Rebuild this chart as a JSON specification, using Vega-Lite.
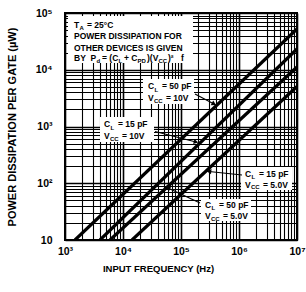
{
  "$schema": "https://vega.github.io/schema/vega-lite/v6.json",
  "width": 232,
  "height": 227,
  "autosize": {"type": "none"},
  "padding": {"left": 65, "top": 13, "right": 9, "bottom": 52},
  "background": "white",
  "config": {
    "font": "Liberation Sans",
    "view": {"stroke": "black", "strokeWidth": 2},
    "axis": {"labelColor": "black", "titleColor": "black", "labelFontWeight": "bold", "titleFontWeight": "bold", "labelFont": "Liberation Sans", "titleFont": "Liberation Sans"}
  },
  "datasets": {
    "curves": [
      {"s": "50pF 10V", "f": 1486, "p": 10}, {"s": "50pF 10V", "f": 10000000, "p": 52240},
      {"s": "15pF 10V", "f": 4009, "p": 10}, {"s": "15pF 10V", "f": 10000000, "p": 23230},
      {"s": "50pF 5V", "f": 5970, "p": 10}, {"s": "50pF 5V", "f": 10000000, "p": 11170},
      {"s": "15pF 5V", "f": 14290, "p": 10}, {"s": "15pF 5V", "f": 10000000, "p": 5070}
    ],
    "boxes": [
      {"f": 1127, "f2": 161000, "p": 88540, "p2": 13150},
      {"f": 22120, "f2": 167600, "p": 6871, "p2": 2492},
      {"f": 4013, "f2": 34240, "p": 1470, "p2": 533.2},
      {"f": 1083000, "f2": 8200000, "p": 193.4, "p2": 76.05},
      {"f": 221200, "f2": 1610000, "p": 52.78, "p2": 21.62}
    ],
    "arrows": [
      {"id": "A", "f": 174300, "p": 3739, "f2": 370800, "p2": 2492},
      {"id": "B", "f": 35620, "p": 816.4, "f2": 181400, "p2": 533.2},
      {"id": "C", "f": 1126500, "p": 139.8, "f2": 303900, "p2": 161.1},
      {"id": "D", "f": 212600, "p": 44.86, "f2": 59680, "p2": 82.48}
    ],
    "heads": [
      {"id": "A", "f": 370800, "p": 2492},
      {"id": "B", "f": 181400, "p": 533.2},
      {"id": "C", "f": 303900, "p": 161.1},
      {"id": "D", "f": 59680, "p": 82.48}
    ],
    "txt": [
      {"t": "T", "f": 1430, "p": 61450},
      {"t": "= 25°C", "f": 2395, "p": 61450},
      {"t": "POWER DISSIPATION FOR", "f": 1430, "p": 39340},
      {"t": "OTHER DEVICES IS GIVEN", "f": 1430, "p": 24660},
      {"t": "BY\u00a0\u00a0P", "f": 1430, "p": 15790},
      {"t": "= (C", "f": 4343, "p": 15790},
      {"t": "+ C", "f": 10400, "p": 15790},
      {"t": ")(V", "f": 25930, "p": 15790},
      {"t": ")²", "f": 59680, "p": 15790},
      {"t": "f", "f": 100000, "p": 15790},
      {"t": "C", "f": 26980, "p": 5069},
      {"t": "= 50 pF", "f": 47030, "p": 5069},
      {"t": "V", "f": 26980, "p": 3243},
      {"t": "= 10V", "f": 55130, "p": 3243},
      {"t": "C", "f": 4703, "p": 1085},
      {"t": "= 15 pF", "f": 8200, "p": 1085},
      {"t": "V", "f": 4703, "p": 680.2},
      {"t": "= 10V", "f": 9611, "p": 680.2},
      {"t": "C", "f": 1269000, "p": 148.5},
      {"t": "= 15 pF", "f": 2212000, "p": 148.5},
      {"t": "V", "f": 1269000, "p": 95.05},
      {"t": "= 5.0V", "f": 2593000, "p": 95.05},
      {"t": "C", "f": 259300, "p": 41.39},
      {"t": "= 50 pF", "f": 451900, "p": 41.39},
      {"t": "V", "f": 259300, "p": 26.48},
      {"t": "= 5.0V", "f": 529800, "p": 26.48}
    ],
    "sub": [
      {"t": "A", "f": 1778, "p": 54410},
      {"t": "d", "f": 3492, "p": 13980},
      {"t": "L", "f": 8365, "p": 13980},
      {"t": "PD", "f": 17780, "p": 13980},
      {"t": "CC", "f": 40940, "p": 13980},
      {"t": "L", "f": 34920, "p": 4486},
      {"t": "CC", "f": 34240, "p": 2871},
      {"t": "L", "f": 6088, "p": 960.2},
      {"t": "CC", "f": 5968, "p": 602.2},
      {"t": "L", "f": 1643000, "p": 131.5},
      {"t": "CC", "f": 1610000, "p": 84.17},
      {"t": "L", "f": 335600, "p": 36.64},
      {"t": "CC", "f": 329000, "p": 23.45}
    ]
  },
  "encoding": {
    "x": {
      "field": "f", "type": "quantitative",
      "scale": {"type": "log", "domain": [1000, 10000000], "nice": false},
      "axis": {
        "values": [1000,2000,3000,4000,5000,6000,7000,8000,9000,10000,20000,30000,40000,50000,60000,70000,80000,90000,100000,200000,300000,400000,500000,600000,700000,800000,900000,1000000,2000000,3000000,4000000,5000000,6000000,7000000,8000000,9000000,10000000],
        "labelExpr": "datum.value == 1000 ? '10³' : datum.value == 10000 ? '10⁴' : datum.value == 100000 ? '10⁵' : datum.value == 1000000 ? '10⁶' : datum.value == 10000000 ? '10⁷' : ''",
        "grid": true, "gridColor": "black", "gridOpacity": 1,
        "gridWidth": {"condition": {"test": "indexof([1000,10000,100000,1000000,10000000], datum.value) >= 0", "value": 1.6}, "value": 1.1},
        "ticks": false, "domain": false,
        "labelFontSize": 10.5, "labelPadding": 6, "labelFlush": false, "labelOverlap": false, "labelBound": false,
        "title": "INPUT FREQUENCY (Hz)", "titleFontSize": 9.5, "titleX": 93, "titleY": 28, "titleAlign": "center", "titleBaseline": "middle"
      }
    },
    "y": {
      "field": "p", "type": "quantitative",
      "scale": {"type": "log", "domain": [10, 100000], "nice": false},
      "axis": {
        "values": [10,20,30,40,50,60,70,80,90,100,200,300,400,500,600,700,800,900,1000,2000,3000,4000,5000,6000,7000,8000,9000,10000,20000,30000,40000,50000,60000,70000,80000,90000,100000],
        "labelExpr": "datum.value == 10 ? '10' : datum.value == 100 ? '10²' : datum.value == 1000 ? '10³' : datum.value == 10000 ? '10⁴' : datum.value == 100000 ? '10⁵' : ''",
        "grid": true, "gridColor": "black", "gridOpacity": 1,
        "gridWidth": {"condition": {"test": "indexof([10,100,1000,10000,100000], datum.value) >= 0", "value": 1.6}, "value": 1.1},
        "ticks": false, "domain": false,
        "labelFontSize": 10.5, "labelPadding": 13, "labelFlush": false, "labelOverlap": false, "labelBound": false,
        "title": "POWER DISSIPATION PER GATE (µW)", "titleFontSize": 11, "titleX": -53, "titleY": 113.5, "titleAlign": "center", "titleBaseline": "middle", "titleAngle": -90
      }
    }
  },
  "layer": [
    {
      "data": {"name": "boxes"},
      "mark": {"type": "rect", "fill": "white", "stroke": null},
      "encoding": {"x2": {"field": "f2"}, "y2": {"field": "p2"}}
    },
    {
      "data": {"name": "curves"},
      "mark": {"type": "line", "color": "black", "strokeWidth": 3.2, "clip": true},
      "encoding": {"detail": {"field": "s", "type": "nominal"}, "order": {"field": "f", "type": "quantitative"}}
    },
    {
      "data": {"name": "arrows"},
      "mark": {"type": "rule", "color": "black", "strokeWidth": 1.2},
      "encoding": {"x2": {"field": "f2"}, "y2": {"field": "p2"}}
    },
    {
      "data": {"name": "heads"},
      "transform": [{"filter": "datum.id == 'A'"}],
      "mark": {"type": "point", "shape": "triangle-right", "filled": true, "color": "black", "opacity": 1, "size": 28, "angle": 28},
      "encoding": {}
    },
    {
      "data": {"name": "heads"},
      "transform": [{"filter": "datum.id == 'B'"}],
      "mark": {"type": "point", "shape": "triangle-right", "filled": true, "color": "black", "opacity": 1, "size": 28, "angle": 14},
      "encoding": {}
    },
    {
      "data": {"name": "heads"},
      "transform": [{"filter": "datum.id == 'C'"}],
      "mark": {"type": "point", "shape": "triangle-left", "filled": true, "color": "black", "opacity": 1, "size": 28, "angle": 6},
      "encoding": {}
    },
    {
      "data": {"name": "heads"},
      "transform": [{"filter": "datum.id == 'D'"}],
      "mark": {"type": "point", "shape": "triangle-left", "filled": true, "color": "black", "opacity": 1, "size": 28, "angle": 25},
      "encoding": {}
    },
    {
      "data": {"name": "txt"},
      "mark": {"type": "text", "align": "left", "baseline": "middle", "fontSize": 8.5, "fontWeight": "bold", "color": "black", "font": "Liberation Sans"},
      "encoding": {"text": {"field": "t", "type": "nominal"}}
    },
    {
      "data": {"name": "sub"},
      "mark": {"type": "text", "align": "left", "baseline": "middle", "fontSize": 6, "fontWeight": "bold", "color": "black", "font": "Liberation Sans"},
      "encoding": {"text": {"field": "t", "type": "nominal"}}
    }
  ]
}
